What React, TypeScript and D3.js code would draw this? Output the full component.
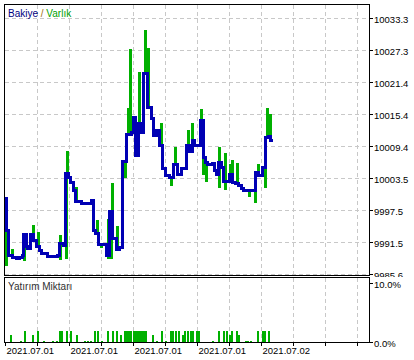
import React from "react";
import * as d3 from "d3";

// ---- axis data ----
const yTickLabels = ["9985.6", "9991.5", "9997.5", "10003.5", "10009.4", "10015.4", "10021.4", "10027.3", "10033.3"];
const Y_BASE = 9985.63;
const Y_STEP = 5.963;
const subTickValues = [0, 10];
const subTickLabels = ["0.0%", "10.0%"];
const dateLabels = ["2021.07.01", "2021.07.01", "2021.07.01", "2021.07.01", "2021.07.02"];
const dateTickT = [1, 65, 129, 193, 257];
const gridT = [1, 33, 65, 97, 129, 161, 193, 225, 257, 289, 321, 353];

// ---- balance (step series) ----
const balanceT = [0, 2, 4, 8, 12, 15, 18, 19, 22, 23, 26, 29, 32, 35, 37, 43, 53, 55, 59, 61, 64, 66, 69, 71, 77, 87, 89, 91, 94, 102, 105, 108, 112, 115, 118, 122, 127, 129, 131, 134, 137, 139, 143, 147, 149, 152, 155, 158, 161, 165, 169, 173, 177, 182, 185, 188, 190, 196, 199, 201, 203, 208, 210, 212, 214, 217, 219, 225, 228, 231, 234, 237, 239, 251, 254, 258, 261, 264, 266];
const balanceV = [9999.8, 9993.8, 9989.2, 9988.8, 9988.6, 9988.8, 9989.2, 9993.1, 9990.9, 9990.5, 9993.1, 9992.0, 9990.9, 9990.1, 9989.5, 9989.0, 9989.2, 9991.4, 9991.0, 10004.5, 10003.7, 10002.8, 10001.3, 9999.3, 9998.9, 9999.4, 9993.8, 9993.3, 9991.2, 9989.2, 9997.4, 9992.3, 9990.3, 9990.7, 10006.7, 10011.7, 10012.1, 10014.9, 10007.8, 10013.8, 10012.1, 10023.1, 10016.8, 10014.7, 10011.5, 10012.5, 10009.7, 10005.4, 10004.1, 10003.7, 10006.1, 10004.3, 10005.4, 10009.7, 10008.6, 10010.6, 10009.7, 10014.3, 10007.4, 10006.5, 10006.1, 10006.3, 10005.0, 10004.3, 10006.5, 10005.6, 10003.0, 10004.3, 10002.8, 10002.6, 10002.2, 10001.7, 10001.3, 10004.6, 10004.1, 10005.6, 10011.2, 10011.3, 10010.6];
const balanceEndT = 268;

// ---- equity excursions ----
const equityT = [0, 1, 7, 19, 28, 33, 55, 55, 61, 62, 71, 92, 96, 103, 103, 106, 107, 112, 117, 120, 123, 125, 130, 134, 140, 143, 156, 166, 170, 183, 187, 196, 198, 201, 214, 214, 220, 220, 225, 227, 232, 244, 250, 253, 260, 262, 265];
const equityV = [10000.0, 9987.3, 9990.3, 9988.2, 9994.9, 9993.5, 9992.9, 9988.4, 9988.6, 10008.7, 10002.0, 9995.7, 9990.5, 9995.9, 9988.6, 9988.6, 10002.6, 9994.6, 9993.3, 10003.7, 10016.6, 10027.6, 10008.7, 10023.3, 10031.1, 10027.9, 10013.9, 10002.2, 10009.3, 10012.5, 10013.8, 10016.4, 10004.1, 10002.8, 10009.3, 10001.8, 10008.2, 10001.3, 10006.3, 10006.9, 10006.5, 10000.0, 9998.9, 10006.3, 10001.8, 10016.7, 10015.6];

// ---- deposit load (%) ----
const depositT = [6, 16, 20, 28, 33, 39, 48, 52, 55, 57, 62, 66, 72, 80, 83, 86, 90, 93, 97, 103, 108, 112, 116, 120, 122, 124, 126, 129, 131, 133, 135, 137, 139, 141, 148, 152, 157, 161, 166, 168, 171, 174, 178, 180, 183, 186, 188, 192, 194, 208, 214, 219, 222, 225, 227, 232, 234, 241, 243, 246, 253, 258, 260, 264];
const depositV = [1.2, 0.2, 2.0, 1.2, 2.0, 0.2, 0.2, 0.2, 2.0, 2.0, 2.0, 2.0, 1.2, 0.2, 0.2, 0.2, 2.0, 2.0, 0.2, 2.0, 2.0, 2.0, 1.2, 2.0, 2.0, 2.0, 2.0, 2.0, 2.0, 2.0, 2.0, 2.0, 2.0, 2.0, 1.2, 0.2, 2.0, 0.2, 2.0, 2.0, 2.0, 2.0, 1.2, 2.0, 2.0, 2.0, 2.0, 2.0, 2.0, 0.2, 2.0, 2.0, 2.0, 1.2, 2.0, 2.0, 1.2, 0.2, 0.2, 0.2, 2.0, 2.0, 2.0, 2.0];

const BLUE = "#0000b4";
const GREEN = "#00b000";
const GRID = "#c8c8c8";
const FONT = "'Liberation Sans', Arial, sans-serif";

export default function App() {
  const L = 4.5, R = 369.5;
  const mainTop = 4.5, mainBottom = 275.5, subTop = 277.5, subBottom = 342.5;
  const x = d3.scaleLinear().domain([0, 365]).range([L, R]);
  const yTickValues = yTickLabels.map((_, i) => Y_BASE + i * Y_STEP);
  const y = d3.scaleLinear().domain([Y_BASE, Y_BASE + 8 * Y_STEP]).range([274.5, 18.5]);
  const ySub = d3.scaleLinear().domain([0, 10]).range([342.5, 283.5]);

  const balPts: [number, number][] = balanceT.map((t, i) => [t, balanceV[i]]);
  balPts.push([balanceEndT, balanceV[balanceV.length - 1]]);
  const balLine = d3
    .line<[number, number]>()
    .x((d) => x(d[0]))
    .y((d) => y(d[1]))
    .curve(d3.curveStepAfter);

  const balAt = (t: number) => {
    const i = Math.max(0, d3.bisectRight(balanceT, t) - 1);
    return balanceV[i];
  };

  return (
    <>
      <style>{`body{margin:0;background:#fff}`}</style>
      <svg width={414} height={360} style={{ display: "block" }} fontFamily={FONT}>
        <defs>
          <clipPath id="mainLabelClip">
            <rect x={370} y={0} width={44} height={277} />
          </clipPath>
        </defs>
        <rect x={0} y={0} width={414} height={360} fill="#fff" />
        {/* main gridlines */}
        <g stroke={GRID} strokeDasharray="4,3" strokeWidth={1} shapeRendering="crispEdges">
          {yTickValues.map((v, i) => (
            <line key={"h" + i} x1={L} x2={R} y1={y(v)} y2={y(v)} />
          ))}
          {gridT.slice(1).map((t) => (
            <line key={"v" + t} x1={x(t)} x2={x(t)} y1={mainTop} y2={mainBottom} />
          ))}
          {gridT.slice(1).map((t) => (
            <line key={"vs" + t} x1={x(t)} x2={x(t)} y1={subTop} y2={subBottom} />
          ))}
        </g>
        {/* equity excursions */}
        <g stroke={GREEN} strokeWidth={3} shapeRendering="crispEdges">
          {equityT.map((t, i) => (
            <line key={"e" + i} x1={x(t) + 1} x2={x(t) + 1} y1={y(balAt(t))} y2={y(equityV[i])} />
          ))}
        </g>
        {/* balance */}
        <path d={balLine(balPts) || ""} fill="none" stroke={BLUE} strokeWidth={3} strokeLinejoin="miter" shapeRendering="crispEdges" />
        {/* deposit load bars */}
        <g fill={GREEN} shapeRendering="crispEdges">
          {depositT.map((t, i) => (
            <rect key={"d" + i} x={x(t) - 0.5} width={2} y={ySub(depositV[i])} height={ySub(0) - ySub(depositV[i])} />
          ))}
        </g>
        {/* frames */}
        <g fill="none" stroke="#000" strokeWidth={1} shapeRendering="crispEdges">
          <rect x={L} y={mainTop} width={R - L} height={mainBottom - mainTop} />
          <rect x={L} y={subTop} width={R - L} height={subBottom - subTop} />
          {yTickValues.map((v, i) => (
            <line key={"t" + i} x1={R} x2={R + 3} y1={y(v)} y2={y(v)} />
          ))}
          {subTickValues.map((v) => (
            <line key={"st" + v} x1={R} x2={R + 3} y1={ySub(v)} y2={ySub(v)} />
          ))}
          {gridT.map((t) => (
            <line key={"bt" + t} x1={x(t)} x2={x(t)} y1={subBottom} y2={subBottom + 3} />
          ))}
        </g>
        {/* labels */}
        <g fontSize={9.5} fill="#000">
          <g clipPath="url(#mainLabelClip)">
            {yTickValues.map((v, i) => (
              <text key={"yl" + i} x={374} y={y(v) + 4}>
                {yTickLabels[i]}
              </text>
            ))}
          </g>
          {subTickValues.map((v, i) => (
            <text key={"sl" + v} x={374} y={ySub(v) + 4}>
              {subTickLabels[i]}
            </text>
          ))}
          {dateTickT.map((t, i) => (
            <text key={"dl" + i} x={x(t) + 1} y={354}>
              {dateLabels[i]}
            </text>
          ))}
        </g>
        <text x={8} y={16.5} fontSize={10}>
          <tspan fill="#000080">Bakiye</tspan>
          <tspan fill="#a07010"> / </tspan>
          <tspan fill="#00a000">Varlık</tspan>
        </text>
        <text x={8} y={290} fontSize={10} fill="#303030">
          Yatırım Miktarı
        </text>
      </svg>
    </>
  );
}
